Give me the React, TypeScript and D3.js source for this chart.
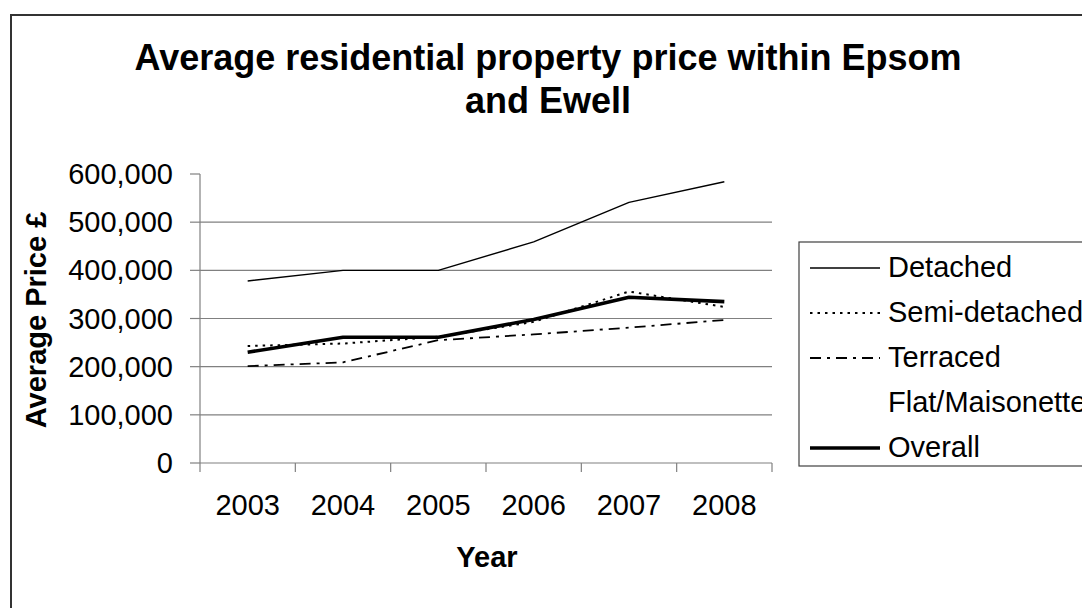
import React from "react";
import * as d3 from "d3";

const years = ["2003", "2004", "2005", "2006", "2007", "2008"];
const detached = [378000, 400000, 400000, 459000, 541000, 584000];
const semiDetached = [243000, 248000, 262000, 293000, 356000, 324000];
const terraced = [201000, 209000, 255000, 267000, 281000, 297000];
const flatMaisonette: (number | null)[] = [null, null, null, null, null, null];
const overall = [230000, 261000, 261000, 298000, 344000, 335000];
const yTicks = [0, 100000, 200000, 300000, 400000, 500000, 600000];

const seriesNames = ["Detached", "Semi-detached", "Terraced", "Flat/Maisonette", "Overall"];
const seriesValues = [detached, semiDetached, terraced, flatMaisonette, overall];
const seriesStyles = [
  { width: 1.4, dash: "none", visible: true },
  { width: 2, dash: "2.5,5", visible: true },
  { width: 1.8, dash: "11,6,3,6", visible: true },
  { width: 0, dash: "none", visible: false },
  { width: 3.6, dash: "none", visible: true },
];

const FONT = "'Liberation Sans', Arial, sans-serif";

export default function App() {
  const W = 1082;
  const H = 608;
  const x = d3.scaleBand<string>().domain(years).range([200, 772]).padding(0);
  const y = d3.scaleLinear().domain([0, 600000]).range([463, 174]);
  const fmt = d3.format(",");
  const line = d3
    .line<number | null>()
    .defined((d) => d !== null)
    .x((_, i) => (x(years[i]) as number) + x.bandwidth() / 2)
    .y((d) => y(d as number));

  const boundaries = years.map((yr) => x(yr) as number).concat([772]);

  return (
    <div style={{ position: "absolute", left: 0, top: 0 }}>
      <svg width={W} height={H} style={{ display: "block", fontFamily: FONT }}>
        <rect x={0} y={0} width={W} height={H} fill="#fff" />
        <rect x={11} y={15} width={1200} height={700} fill="none" stroke="#333" strokeWidth={2} />
        <text x={548} y={69.5} textAnchor="middle" fontSize={36} fontWeight="bold" fill="#000">
          Average residential property price within Epsom
        </text>
        <text x={548} y={113} textAnchor="middle" fontSize={36} fontWeight="bold" fill="#000">
          and Ewell
        </text>

        {/* gridlines */}
        {yTicks.filter((t) => t > 0 && t < 600000).map((t) => (
          <line key={"g" + t} x1={200} x2={772} y1={y(t)} y2={y(t)} stroke="#808080" strokeWidth={1.2} />
        ))}
        {/* y axis */}
        <line x1={200} x2={200} y1={y(600000)} y2={y(0)} stroke="#808080" strokeWidth={1.2} />
        {yTicks.map((t) => (
          <g key={"yt" + t}>
            <line x1={190} x2={200} y1={y(t)} y2={y(t)} stroke="#808080" strokeWidth={1.2} />
            <text x={173} y={y(t)} dy="0.35em" textAnchor="end" fontSize={29} fill="#000">
              {fmt(t)}
            </text>
          </g>
        ))}
        {/* x axis */}
        <line x1={200} x2={772} y1={y(0)} y2={y(0)} stroke="#808080" strokeWidth={1.2} />
        {boundaries.map((b, i) => (
          <line key={"xt" + i} x1={b} x2={b} y1={y(0)} y2={y(0) + 9} stroke="#808080" strokeWidth={1.2} />
        ))}
        {years.map((yr) => (
          <text key={"xl" + yr} x={(x(yr) as number) + x.bandwidth() / 2} y={515} textAnchor="middle" fontSize={29} fill="#000">
            {yr}
          </text>
        ))}
        <text x={487} y={567} textAnchor="middle" fontSize={29} fontWeight="bold" fill="#000">
          Year
        </text>
        <text transform="translate(46,320) rotate(-90)" textAnchor="middle" fontSize={29} fontWeight="bold" fill="#000">
          Average Price £
        </text>

        {/* series */}
        {seriesValues.map((vals, i) =>
          seriesStyles[i].visible ? (
            <path
              key={"s" + i}
              d={line(vals as (number | null)[]) || ""}
              fill="none"
              stroke="#000"
              strokeWidth={seriesStyles[i].width}
              strokeDasharray={seriesStyles[i].dash}
              strokeLinejoin="round"
            />
          ) : null
        )}

        {/* legend */}
        <rect x={799} y={242} width={400} height={224} fill="#fff" stroke="#404040" strokeWidth={1.2} />
        {seriesNames.map((name, i) => {
          const ly = 268 + i * 45;
          return (
            <g key={"lg" + i}>
              {seriesStyles[i].visible && (
                <line
                  x1={810}
                  x2={880}
                  y1={ly}
                  y2={ly}
                  stroke="#000"
                  strokeWidth={seriesStyles[i].width}
                  strokeDasharray={seriesStyles[i].dash}
                />
              )}
              <text x={888} y={ly + 9} fontSize={29} fill="#000">
                {name}
              </text>
            </g>
          );
        })}
      </svg>
    </div>
  );
}
